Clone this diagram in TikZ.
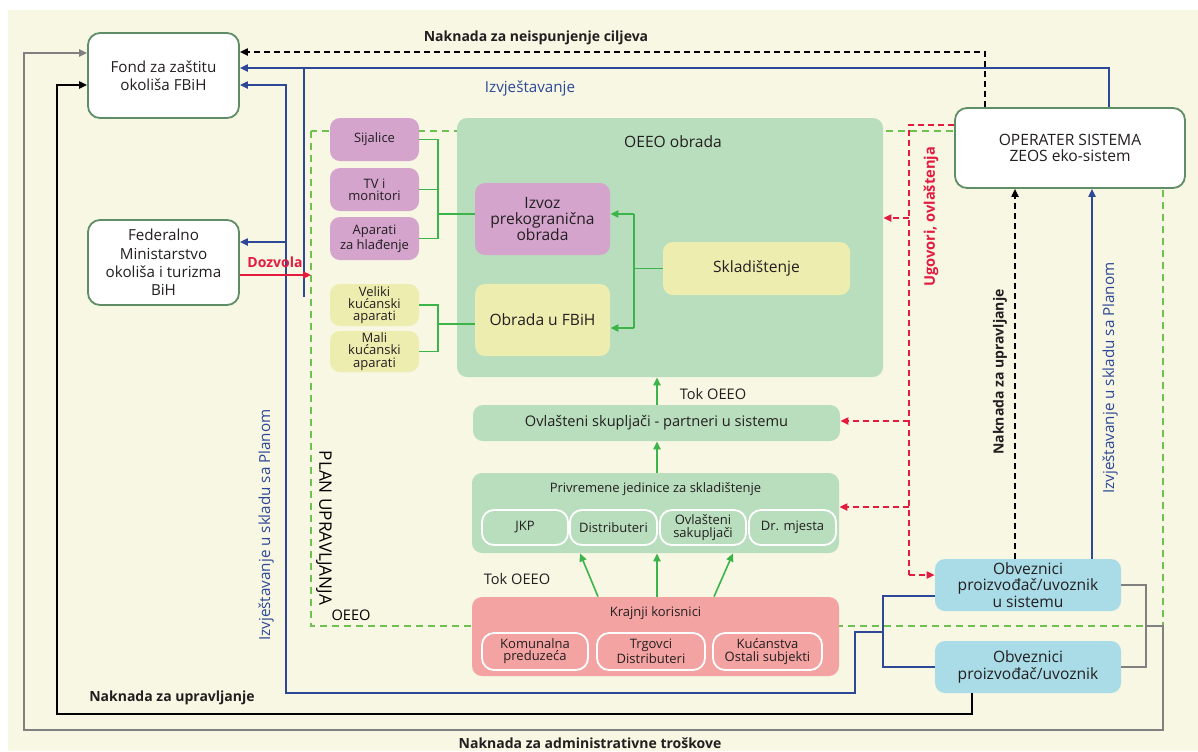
\documentclass[tikz,border=0pt]{standalone}
\usepackage{fontspec}
\setmainfont{Open Sans}
\usetikzlibrary{arrows.meta,calc}
\definecolor{bgc}{HTML}{F7F7E4}
\definecolor{boxb}{HTML}{5F8D66}
\definecolor{lgreen}{HTML}{B9DEBD}
\definecolor{lpurple}{HTML}{D4A4CD}
\definecolor{lyellow}{HTML}{EEEDB0}
\definecolor{lpink}{HTML}{F4A3A3}
\definecolor{lblue}{HTML}{A9DCE7}
\definecolor{gline}{HTML}{3BB54A}
\definecolor{dblue}{HTML}{2D4896}
\definecolor{redc}{HTML}{E31B3F}
\definecolor{grayc}{HTML}{808080}
\definecolor{gdash}{HTML}{6EC04F}
\definecolor{txt}{HTML}{231F20}
\newcommand\fmain{\fontsize{7.8}{8.2}\selectfont}
\newcommand\fbig{\fontsize{7.6}{9.2}\selectfont}
\newcommand\fsub{\fontsize{6.5}{6.1}\selectfont}
\newcommand\fmid{\fontsize{7.3}{8}\selectfont}
\newcommand\frot{\fontsize{7.6}{8}\selectfont}
\newcommand\fplan{\fontsize{8.6}{9}\selectfont}
\newcommand\flab{\fontsize{7}{8}\selectfont\bfseries}
\tikzset{
  whitebox/.style={draw=boxb, fill=white, rounded corners=6pt, line width=0.9pt, align=center, inner sep=0pt, font=\fbig, text=txt},
  fillbox/.style={fill=#1, rounded corners=5pt, align=center, inner sep=0pt, font=\fmain, text=txt},
  smallbox/.style={fill=#1, rounded corners=5pt, align=center, inner sep=0pt, font=\fsub, text=txt, minimum width=44.5pt},
  subbox/.style={draw=white, line width=0.9pt, rounded corners=6pt, align=center, inner sep=0pt, font=\fsub, text=txt},
  lab/.style={font=\flab, text=txt, inner sep=0pt},
  grayl/.style={draw=grayc, line width=0.8pt},
  blackl/.style={draw=black, line width=0.8pt},
  bluel/.style={draw=dblue, line width=0.75pt},
  blackd/.style={draw=black, line width=0.75pt, dash pattern=on 3pt off 2pt},
  redl/.style={draw=redc, line width=0.75pt},
  redd/.style={draw=redc, line width=0.75pt, dash pattern=on 3pt off 2pt},
  greenl/.style={draw=gline, line width=0.8pt},
  plandash/.style={draw=gdash, line width=0.8pt, dash pattern=on 3.5pt off 2.5pt},
}
\begin{document}
\begin{tikzpicture}[x=0.5pt,y=-0.5pt, >={Triangle[length=4pt,width=3.6pt]}]
\useasboundingbox (0,0) rectangle (1198,751);
\fill[white] (0,0) rectangle (1198,751);
\fill[bgc] (8,10) rectangle (1198,751);

% plan boundary
\draw[plandash] (311,131) rectangle (1163,626);

% main boxes
\node[whitebox, minimum width=75.5pt, minimum height=42.5pt] (fond) at (163.5,75.5) {Fond za zaštitu\\okoliša FBiH};
\node[whitebox, minimum width=75.5pt, minimum height=42.5pt] (fed) at (163.5,262.5) {Federalno\\Ministarstvo\\okoliša i turizma\\BiH};
\node[whitebox, minimum width=115pt, minimum height=40pt, font=\fmain] (oper) at (1070,148) {OPERATER SISTEMA\\ZEOS eko-sistem};

\node[fillbox=lgreen, minimum width=213pt, minimum height=129.5pt] (oeeo) at (670,247.5) {};
\node[font=\fmain, text=txt, inner sep=0pt] (oeeot) at (673,142) {OEEO obrada};

\node[smallbox=lpurple, minimum height=21.5pt] (sij) at (374.5,139.5) {Sijalice};
\node[smallbox=lpurple, minimum height=21.5pt] (tv) at (374.5,189.5) {TV i\\monitori};
\node[smallbox=lpurple, minimum height=21.5pt] (apar) at (374.5,238.5) {Aparati\\za hlađenje};
\node[smallbox=lyellow, minimum height=21pt] (vel) at (374.5,305) {Veliki\\kućanski\\aparati};
\node[smallbox=lyellow, minimum height=20.5pt] (mali) at (374.5,351.5) {Mali\\kućanski\\aparati};

\node[fillbox=lpurple, minimum width=67.5pt, minimum height=36pt] (izvoz) at (542.5,219) {Izvoz\\prekogranična\\obrada};
\node[fillbox=lyellow, minimum width=67.5pt, minimum height=36pt] (obrada) at (542.5,320) {Obrada u FBiH};
\node[fillbox=lyellow, minimum width=93.5pt, minimum height=26.5pt] (skl) at (756.5,268.5) {Skladištenje};

\node[fillbox=lgreen, minimum width=183.5pt, minimum height=18pt, font=\fmid] (ovl) at (656.5,423) {Ovlašteni skupljači - partneri u sistemu};

\node[fillbox=lgreen, minimum width=183.5pt, minimum height=40pt] (priv) at (655.5,513) {};
\node[font=\fsub, text=txt, inner sep=0pt] (privt) at (655.5,489) {Privremene jedinice za skladištenje};
\node[subbox, minimum width=43pt, minimum height=17.5pt] (jkp) at (525,527.5) {JKP};
\node[subbox, minimum width=43.5pt, minimum height=17.5pt] (dist) at (613.5,527.5) {Distributeri};
\node[subbox, minimum width=43pt, minimum height=17.5pt] (ovs) at (703,527.5) {Ovlašteni\\sakupljači};
\node[subbox, minimum width=43.5pt, minimum height=17.5pt] (drm) at (792.5,527.5) {Dr. mjesta};

\node[fillbox=lpink, minimum width=183.5pt, minimum height=39.5pt] (kraj) at (655.5,636.5) {};
\node[font=\fsub, text=txt, inner sep=0pt] (krajt) at (655.5,613) {Krajnji korisnici};
\node[subbox, minimum width=53pt, minimum height=18.5pt] (kom) at (535,651.5) {Komunalna\\preduzeća};
\node[subbox, minimum width=54pt, minimum height=18.5pt] (trg) at (651,651.5) {Trgovci\\Distributeri};
\node[subbox, minimum width=54.5pt, minimum height=18.5pt] (kuc) at (767.5,651.5) {Kućanstva\\Ostali subjekti};

\node[fillbox=lblue, minimum width=93pt, minimum height=26pt] (obv1) at (1028,585) {Obveznici\\proizvođač/uvoznik\\u sistemu};
\node[fillbox=lblue, minimum width=93pt, minimum height=26pt] (obv2) at (1028,667) {Obveznici\\proizvođač/uvoznik};

% helper coordinates
\coordinate (h53) at (0,53);
\coordinate (h85) at (0,85);

% gray: administrative costs
\coordinate (gb) at (1146,626);
\draw[grayl] (obv1.east) -- (obv1.east -| gb) -- (obv2.east -| gb) -- (obv2.east);
\draw[grayl,->] (gb) -- (1163,626) -- (1163,730) -- (24,730) -- (24,53) -- (fond.west |- h53);

% black: management fee
\coordinate (bk) at (972,714);
\draw[blackl,->] (obv2.south -| bk) -- (bk) -- (57,714) -- (57,85) -- (fond.west |- h85);

% blue reporting
\coordinate (bt) at (1109,68);
\draw[bluel,->] (oper.north -| bt) -- (bt) -- (fond.east |- bt);
\coordinate (bvt) at (304,68);
\coordinate (bvb) at (304,297);
\draw[bluel] (bvt) -- (bvb);
\coordinate (bq) at (883,596);
\draw[bluel] (obv1.west |- bq) -- (bq) -- (bq |- obv2.west) -- (obv2.west);
\coordinate (bx) at (883,632);
\draw[bluel,->] (bx) -- (855,632) -- (855,693) -- (286,693) -- (286,85) -- (fond.east |- h85);
\coordinate (h242) at (286,242);
\draw[bluel,->] (h242) -- (fed.east |- h242);
\coordinate (bv) at (1092,0);
\draw[bluel,->] (obv1.north -| bv) -- (oper.south -| bv);

% black dashed
\coordinate (kd) at (985,52);
\draw[blackd,->] (oper.north -| kd) -- (kd) -- (fond.east |- kd);
\coordinate (kv) at (1015,0);
\draw[blackd,->] (obv1.north -| kv) -- (oper.south -| kv);

% red
\coordinate (dz) at (311,275);
\draw[redl,->] (fed.east |- dz) -- (dz);
\coordinate (rt) at (909,125);
\coordinate (rb) at (909,575);
\draw[redd] (oper.west |- rt) -- (rt) -- (rb);
\draw[redd,->] (rb) -- (obv1.west |- rb);
\coordinate (r1) at (909,218);
\draw[redd,->] (r1) -- (oeeo.east |- r1);
\coordinate (r2) at (909,421);
\draw[redd,->] (r2) -- (ovl.east |- r2);
\coordinate (r3) at (909,507);
\draw[redd,->] (r3) -- (priv.east |- r3);

% green connectors
\coordinate (gx) at (438,0);
\draw[greenl] (sij.east) -- (sij.east -| gx) -- (apar.east -| gx) -- (apar.east);
\draw[greenl] (tv.east) -- (tv.east -| gx);
\coordinate (gi) at (438,214);
\draw[greenl] (gi) -- (izvoz.west |- gi);
\draw[greenl] (vel.east) -- (vel.east -| gx) -- (mali.east -| gx) -- (mali.east);
\coordinate (go) at (438,324);
\draw[greenl] (go) -- (obrada.west |- go);
\coordinate (sx) at (634,214);
\coordinate (sy) at (634,328);
\draw[greenl] (skl.west) -- (skl.west -| sx);
\draw[greenl] (sx) -- (sy);
\draw[greenl,->] (sx) -- (izvoz.east |- sx);
\draw[greenl,->] (sy) -- (obrada.east |- sy);

\coordinate (tx) at (657,0);
\coordinate (t1) at (598,0);
\coordinate (t2) at (580,0);
\coordinate (t3) at (714,0);
\coordinate (t4) at (733,0);
\draw[greenl,->] (ovl.north -| tx) -- (oeeo.south -| tx);
\draw[greenl,->] (priv.north -| tx) -- (ovl.south -| tx);
\draw[greenl,->] (kraj.north -| tx) -- (priv.south -| tx);
\draw[greenl,->] (kraj.north -| t1) -- (priv.south -| t2);
\draw[greenl,->] (kraj.north -| t3) -- (priv.south -| t4);

% labels
\node[lab] (l1) at (536,38) {Naknada za neispunjenje ciljeva};
\node[font=\frot, text=dblue, inner sep=0pt] (l2) at (530,88) {Izvještavanje};
\node[lab, text=redc] (l3) at (275,262) {Dozvola};
\node[lab] (l4) at (172,698) {Naknada za upravljanje};
\node[lab] (l5) at (590,743) {Naknada za administrativne troškove};
\node[font=\frot, text=dblue, inner sep=0pt, rotate=90] (l6) at (266,525) {Izvještavanje u skladu sa Planom};
\node[font=\fplan, text=black, inner sep=0pt, rotate=-90] (l7) at (324,528) {PLAN UPRAVLJANJA};
\node[font=\fmid, text=black, inner sep=0pt] (l8) at (351,615) {OEEO};
\node[lab, text=redc, font=\fmid\bfseries, rotate=90] (l9) at (931,217) {Ugovori, ovlaštenja};
\node[lab, rotate=90] (l10) at (1000,372) {Naknada za upravljanje};
\node[font=\frot, text=dblue, inner sep=0pt, rotate=90] (l11) at (1110,378) {Izvještavanje u skladu sa Planom};
\node[font=\fmid, text=txt, inner sep=0pt] (l12) at (713,394) {Tok OEEO};
\node[font=\fmid, text=txt, inner sep=0pt] (l13) at (517,579) {Tok OEEO};
\end{tikzpicture}
\end{document}
